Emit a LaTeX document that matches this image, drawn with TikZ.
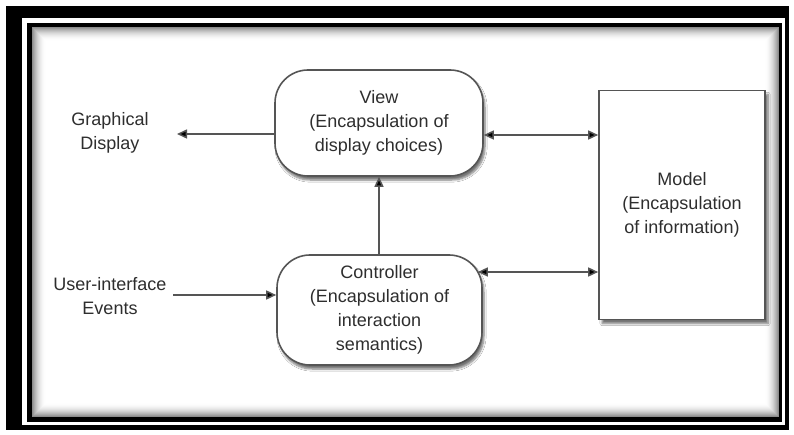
\documentclass[tikz,border=0pt]{standalone}
\usepackage{fontspec}
\setmainfont{Liberation Sans}
\usetikzlibrary{arrows.meta,shadows.blur}
\definecolor{ink}{HTML}{2E2E2E}
\definecolor{edge}{HTML}{555555}
\tikzset{
  lbl/.style={align=center,text=ink,font=\fontsize{18}{24}\selectfont,inner sep=0pt},
  roundbox/.style={draw=edge,line width=1.6pt,fill=white,rounded corners=33pt,
     align=center,text=ink,font=\fontsize{18}{24}\selectfont,inner sep=0pt,
     blur shadow={shadow xshift=2pt,shadow yshift=-4pt,shadow opacity=55,shadow blur steps=6}},
  squarebox/.style={draw=edge,line width=1.6pt,fill=white,
     align=center,text=ink,font=\fontsize{18}{24}\selectfont,inner sep=0pt,
     blur shadow={shadow xshift=3pt,shadow yshift=-4pt,shadow opacity=55,shadow blur steps=6}},
  arr/.style={draw=edge,line width=1.5pt,-{Triangle[length=10pt,width=9pt,fill=black]}},
  dbl/.style={draw=edge,line width=1.5pt,{Triangle[length=10pt,width=9pt,fill=black]}-{Triangle[length=10pt,width=9pt,fill=black]}}
}
\begin{document}
\begin{tikzpicture}[x=1pt,y=-1pt]
\useasboundingbox (0,0) rectangle (794,435);
% frame
\fill[white] (0,0) rectangle (794,435);
\fill[black] (6,6) rectangle (789,430);
\fill[white] (22,18) rectangle (785,425);
\fill[black] (27,23) rectangle (782,422);
\fill[white] (32,27) rectangle (779,417);
\foreach \i in {0,...,13}{
  \pgfmathsetmacro{\op}{0.45*(1-\i/14)*(1-\i/14)}
  \draw[black,opacity=\op,line width=1pt] (32.5+\i,27.5+\i) rectangle (778.5-\i,416.5-\i);
}
% nodes
\node[roundbox,minimum width=208pt,minimum height=106pt] (view) at (379,123)
  {View\\(Encapsulation of\\display choices)};
\node[roundbox,minimum width=205pt,minimum height=110pt] (ctrl) at (379.5,310)
  {Controller\\(Encapsulation of\\interaction\\semantics)};
\node[squarebox,minimum width=166pt,minimum height=229pt] (model) at (682,205)
  {Model\\(Encapsulation\\of information)};
\node[lbl] (gd) at (110,133) {Graphical\\Display};
\node[lbl] (ui) at (110,296) {User-interface\\Events};
% connectors
\coordinate (gdtip) at (177,134);
\coordinate (uitail) at (173,295);
\coordinate (vm) at (0,135);
\coordinate (cm) at (0,272);
\draw[arr] (view.west |- gdtip) -- (gdtip);
\draw[arr] (uitail) -- (ctrl.west |- uitail);
\draw[arr] (view.south |- ctrl.north) -- (view.south);
\draw[dbl] (view.east |- vm) -- (model.west |- vm);
\draw[dbl] ([xshift=-5pt]ctrl.east |- cm) -- (model.west |- cm);
\end{tikzpicture}
\end{document}
